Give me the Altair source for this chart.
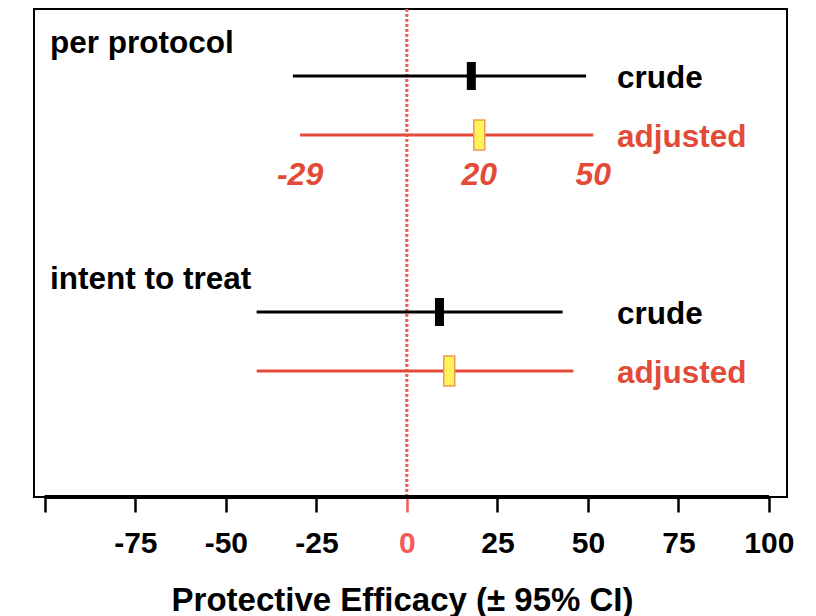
import altair as alt
import pandas as pd

# ---- data ----
groups = ["per protocol", "per protocol", "intent to treat", "intent to treat"]
analyses = ["crude", "adjusted", "crude", "adjusted"]
row_index = [1, 2, 5, 6]
estimate = [17.8, 20.0, 9.0, 11.7]
lower = [-31.5, -29.5, -41.5, -41.5]
upper = [49.5, 51.5, 43.0, 46.0]
group_labels = ["per protocol", "intent to treat"]
pp_adjusted_labels = ["-29", "20", "50"]
tick_values = [-100, -75, -50, -25, 0, 25, 50, 75, 100]

RED = "#e24b37"
ZERO_RED = "#f25c54"
FONT = "Liberation Sans"

df = pd.DataFrame({
    "group": groups, "analysis": analyses, "row": row_index,
    "est": estimate, "lo": lower, "hi": upper,
})

grp = df.groupby("group", sort=False)["row"].min().reset_index()
grp = grp.set_index("group").loc[group_labels].reset_index()
grp["row"] = grp["row"] - 0.55

pp_adj = df[(df.group == "per protocol") & (df.analysis == "adjusted")].iloc[0]
vlab = pd.DataFrame({
    "text": pp_adjusted_labels,
    "x": [pp_adj.lo, pp_adj.est, pp_adj.hi],
    "row": [pp_adj.row + 0.66] * 3,
})

xscale = alt.Scale(domain=[-103, 105], nice=False, zero=False)
yscale = alt.Scale(domain=[-0.136, 8.136], reverse=True, nice=False, zero=False)

xaxis = alt.Axis(
    values=tick_values,
    title="Protective Efficacy (± 95% CI)",
    domain=False, grid=False,
    tickSize=15, tickWidth=2.5,
    tickColor={"condition": {"test": "datum.value === 0", "value": ZERO_RED}, "value": "black"},
    labelColor={"condition": {"test": "datum.value === 0", "value": ZERO_RED}, "value": "black"},
    labelExpr="datum.value === -100 ? '' : '' + datum.value",
    labelFont=FONT, labelFontWeight="bold", labelFontSize=30,
    labelPadding=16, labelFlush=False, labelOverlap=False,
    titleFont=FONT, titleFontWeight="bold", titleFontSize=33, titleColor="black",
    titlePadding=26, titleX=368, titleAnchor="middle",
)

color_scale = alt.Scale(domain=["crude", "adjusted"], range=["black", RED])

base = alt.Chart(df)

zero_line = alt.Chart(df).mark_rule(color=ZERO_RED, strokeWidth=2.5, strokeDash=[2.5, 2.5]).encode(
    x=alt.XDatum(0, scale=xscale, axis=xaxis)
)

axis_line = alt.Chart(df).mark_rule(color="black", strokeWidth=4).encode(
    x=alt.XDatum(tick_values[0], scale=xscale, axis=xaxis),
    x2=alt.X2Datum(tick_values[-1]),
    y=alt.value("height"),
)

ci = base.mark_rule(strokeWidth=3).encode(
    x=alt.X("lo:Q", scale=xscale, axis=xaxis),
    x2="hi:Q",
    y=alt.Y("row:Q", scale=yscale, axis=None),
    color=alt.Color("analysis:N", scale=color_scale, legend=None),
)

crude_mark = base.transform_filter("datum.analysis == 'crude'").mark_tick(
    orient="vertical", thickness=9, size=28, color="black", opacity=1
).encode(
    x=alt.X("est:Q", scale=xscale, axis=xaxis),
    y=alt.Y("row:Q", scale=yscale, axis=None),
)

adj_mark = base.transform_filter("datum.analysis == 'adjusted'").mark_tick(
    orient="vertical", thickness=11, size=30, fill="#fff35a", stroke="#ee9a55",
    strokeWidth=1.5, opacity=1, filled=True
).encode(
    x=alt.X("est:Q", scale=xscale, axis=xaxis),
    y=alt.Y("row:Q", scale=yscale, axis=None),
)

row_text = base.mark_text(
    align="left", baseline="middle", font=FONT, fontWeight="bold", fontSize=31.5, dy=3
).encode(
    x=alt.value(583),
    y=alt.Y("row:Q", scale=yscale, axis=None),
    text="analysis:N",
    color=alt.Color("analysis:N", scale=color_scale, legend=None),
)

group_text = alt.Chart(grp).mark_text(
    align="left", baseline="middle", font=FONT, fontWeight="bold", fontSize=31.5, color="black"
).encode(
    x=alt.value(16),
    y=alt.Y("row:Q", scale=yscale, axis=None),
    text="group:N",
)

value_text = alt.Chart(vlab).mark_text(
    align="center", baseline="middle", font=FONT, fontWeight="bold", fontStyle="italic",
    fontSize=32, color=RED, dy=1
).encode(
    x=alt.X("x:Q", scale=xscale, axis=xaxis),
    y=alt.Y("row:Q", scale=yscale, axis=None),
    text="text:N",
)

chart = alt.layer(
    zero_line, axis_line, ci, crude_mark, adj_mark, row_text, group_text, value_text
).properties(
    width=753, height=488,
    autosize=alt.AutoSizeParams(type="none"),
    padding={"left": 34, "top": 9, "right": 29, "bottom": 119},
    background="white",
).configure_view(stroke="black", strokeWidth=2)

chart.save("out.html", embed_options={"renderer": "svg", "actions": False})
